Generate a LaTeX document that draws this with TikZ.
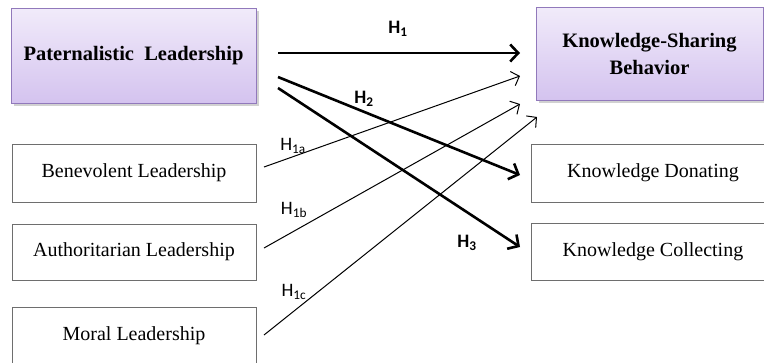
\documentclass[tikz,border=0pt]{standalone}
\usepackage{fontspec}
\setmainfont{Liberation Serif}
\newfontfamily\labelfont{Carlito}
\usetikzlibrary{arrows.meta,calc,shadows}

\definecolor{boxtop}{HTML}{F1EBFA}
\definecolor{boxbottom}{HTML}{D4C3EF}
\definecolor{boxline}{HTML}{9179BB}
\definecolor{plainline}{HTML}{6E6E6E}

\tikzset{
  mainbox/.style={rectangle, draw=boxline, line width=1pt,
    top color=boxtop, bottom color=boxbottom,
    drop shadow={shadow xshift=3pt, shadow yshift=-3pt, opacity=0.3, fill=black!60},
    font=\fontsize{20.5}{27}\selectfont\bfseries, align=center,
    inner sep=0pt, outer sep=0pt},
  subbox/.style={rectangle, draw=plainline, line width=0.9pt, fill=white,
    font=\fontsize{20}{24}\selectfont, inner sep=0pt, outer sep=0pt},
  strongpath/.style={line width=2.6pt, -{Straight Barb[length=8pt,width=17pt,line width=2.6pt]}},
  weakpath/.style={line width=1pt, -{Straight Barb[length=7pt,width=15pt,line width=1pt]}},
  hyp/.style={font=\labelfont\fontsize{19}{20}\selectfont, inner sep=0pt},
  hypbold/.style={font=\labelfont\bfseries\fontsize{19}{20}\selectfont, inner sep=0pt}
}

\begin{document}
\begin{tikzpicture}[x=1pt, y=-1pt]
  \useasboundingbox (0,0) rectangle (764,362);

  % construct boxes
  \node[mainbox, minimum width=245pt, minimum height=95pt] (pl) at (133.5,55.5)
    {Paternalistic\ \ Leadership};
  \node[mainbox, minimum width=227pt, minimum height=93pt] (ksb) at (649.5,53.5)
    {Knowledge-Sharing\\Behavior};

  % dimensions
  \node[subbox, minimum width=244pt, minimum height=58pt] (ben) at (134,173) {Benevolent Leadership};
  \node[subbox, minimum width=244pt, minimum height=56pt] (aut) at (134,252) {Authoritarian Leadership};
  \node[subbox, minimum width=244pt, minimum height=57pt] (mor) at (134,335.5) {Moral Leadership};
  \node[subbox, minimum width=244pt, minimum height=58pt] (kd) at (653,173) {Knowledge Donating};
  \node[subbox, minimum width=244pt, minimum height=57pt] (kc) at (653,251.5) {Knowledge Collecting};

  % hypothesised paths
  \draw[strongpath] ($(pl.east)+(22,-2.5)$) -- ($(ksb.west)+(-16,-0.5)$);
  \draw[strongpath] ($(pl.east)+(22,21.5)$) -- ($(kd.west)+(-11,2)$);
  \draw[strongpath] ($(pl.east)+(22,32.5)$) -- ($(kc.west)+(-11,-4.5)$);

  \draw[weakpath] ($(ben.east)+(8,-6)$) -- ($(ksb.west)+(-16,22.5)$);
  \draw[weakpath] ($(aut.east)+(8,-4)$) -- ($(ksb.west)+(-16,50.5)$);
  \draw[weakpath] ($(mor.east)+(8,-0.5)$) -- ($(ksb.west)+(1,63.5)$);

  % path labels
  \node[hypbold] (h1) at (398,29) {H\textsubscript{1}};
  \node[hypbold] (h2) at (364,99) {H\textsubscript{2}};
  \node[hypbold] (h3) at (467,243) {H\textsubscript{3}};
  \node[hyp] (h1a) at (293,146) {H\textsubscript{1a}};
  \node[hyp] (h1b) at (294,210) {H\textsubscript{1b}};
  \node[hyp] (h1c) at (294,292) {H\textsubscript{1c}};
\end{tikzpicture}
\end{document}
